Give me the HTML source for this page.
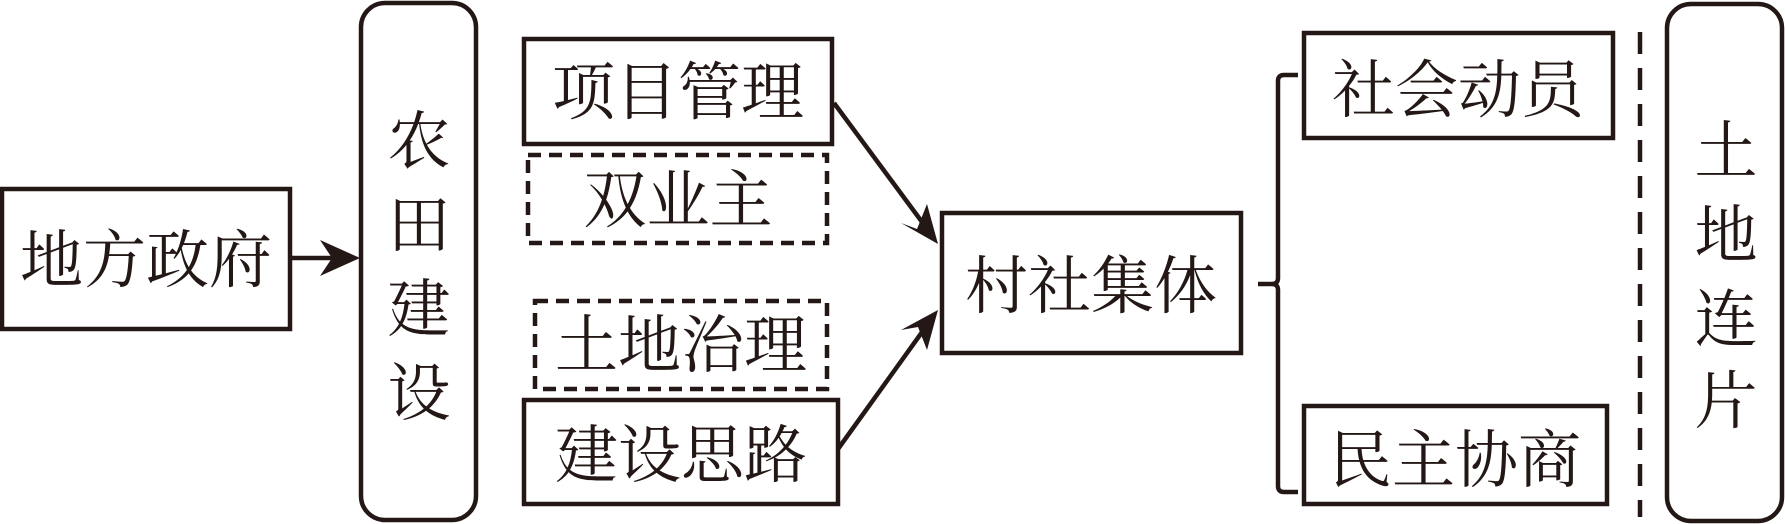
<!DOCTYPE html>
<html><head><meta charset="utf-8"><style>
html,body{margin:0;padding:0;background:#fff;}
svg{display:block;}
text{font-family:"Liberation Serif","Noto Serif CJK SC",serif;font-size:63px;fill:#231815;}
</style></head><body>
<svg width="1785" height="524" viewBox="0 0 1785 524" xmlns="http://www.w3.org/2000/svg">
<g fill="none" stroke="#231815" stroke-width="4.5">
<rect x="2" y="189" width="288" height="140"/>
<rect x="361" y="3" width="115" height="517" rx="24"/>
<rect x="524" y="39" width="308" height="105"/>
<rect x="528" y="155" width="299" height="88" stroke-dasharray="13,8"/>
<rect x="535" y="301" width="292" height="88" stroke-dasharray="13,8"/>
<rect x="524" y="400" width="314" height="104"/>
<rect x="942" y="213" width="299" height="140"/>
<rect x="1304" y="33" width="309" height="105"/>
<rect x="1304" y="406" width="303" height="98"/>
<rect x="1667" y="4" width="115" height="517" rx="24"/>
<line x1="1640" y1="32" x2="1640" y2="517" stroke-dasharray="22,14"/>
<path d="M1298 75 H1284 Q1278 75 1278 81 V278 Q1278 284 1272 284 H1258 M1272 284 Q1278 284 1278 290 V486 Q1278 492 1284 492 H1298"/>
<line x1="290" y1="258" x2="335" y2="258"/>
<line x1="834" y1="103" x2="925" y2="226"/>
<line x1="838" y1="449" x2="925" y2="328"/>
</g>
<g fill="#231815">
<polygon points="360,258 320,240 332,258 320,276"/>
<polygon points="938,244 901,223 917,229 927,204"/>
<polygon points="938,310 927,350 918,327 901,330"/>
</g>
<text x="146" y="282" text-anchor="middle">地方政府</text>
<g text-anchor="middle">
<text x="419" y="163">农</text>
<text x="419" y="247">田</text>
<text x="419" y="331">建</text>
<text x="419" y="415">设</text>
<text x="1726" y="173">土</text>
<text x="1726" y="257">地</text>
<text x="1726" y="341">连</text>
<text x="1726" y="423">片</text>
</g>
<text x="678" y="114" text-anchor="middle">项目管理</text>
<text x="678" y="222" text-anchor="middle">双业主</text>
<text x="681" y="367" text-anchor="middle">土地治理</text>
<text x="681" y="477" text-anchor="middle">建设思路</text>
<text x="1091" y="308" text-anchor="middle">村社集体</text>
<text x="1458" y="112" text-anchor="middle">社会动员</text>
<text x="1455" y="482" text-anchor="middle">民主协商</text>
</svg>
</body></html>
